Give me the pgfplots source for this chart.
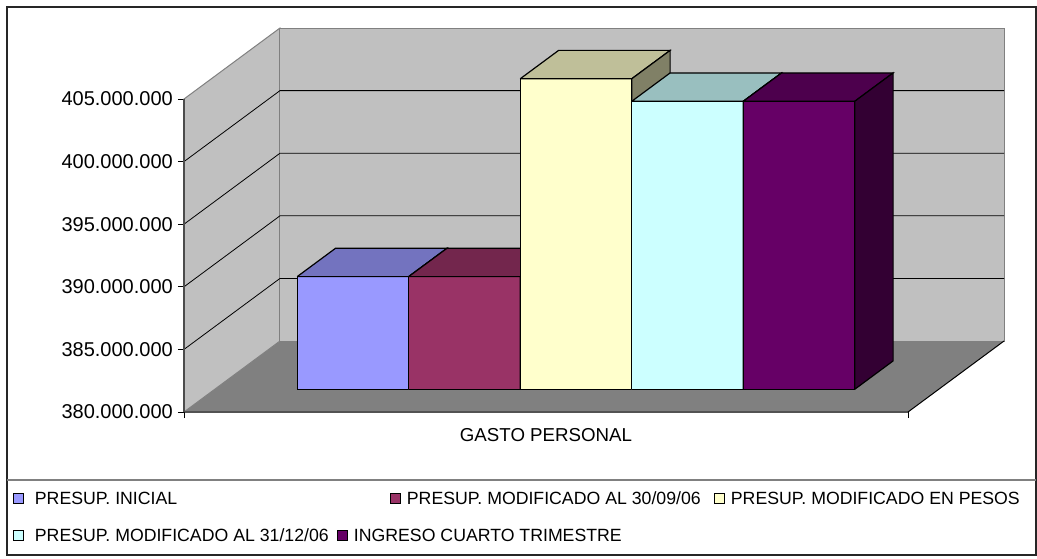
\documentclass[border=0pt]{standalone}
\usepackage{fontspec}
\setmainfont{Liberation Sans}
\usepackage{pgfplots}
\pgfplotsset{compat=1.18}
\definecolor{wall}{HTML}{C0C0C0}
\definecolor{floorc}{HTML}{808080}
\definecolor{edge}{HTML}{808080}
\definecolor{cA}{HTML}{9999FF}\definecolor{cAt}{HTML}{7373BF}\definecolor{cAs}{HTML}{4D4D80}
\definecolor{cB}{HTML}{993366}\definecolor{cBt}{HTML}{73264D}\definecolor{cBs}{HTML}{4D1A33}
\definecolor{cC}{HTML}{FFFFCC}\definecolor{cCt}{HTML}{BFBF99}\definecolor{cCs}{HTML}{808066}
\definecolor{cD}{HTML}{CCFFFF}\definecolor{cDt}{HTML}{99BFBF}\definecolor{cDs}{HTML}{668080}
\definecolor{cE}{HTML}{660066}\definecolor{cEt}{HTML}{4D004D}\definecolor{cEs}{HTML}{330033}
\pgfplotsset{
  table/obl/.style={row sep=\\, x expr=\thisrow{x}+96*\thisrow{d}, y expr=\thisrow{v}+5.67*\thisrow{d}},
  geom/.style={at={(184pt,146pt)}, anchor=south west, x=1pt, y=12.52pt,
    xmin=0, xmax=820, ymin=380, ymax=410.67, clip=false},
  leg/.style={legend style={draw=none, fill=none, inner sep=0pt, outer sep=0pt,
      column sep=0pt, row sep=0pt, cells={anchor=base west},
      nodes={inner sep=0pt, text height=13pt, text depth=3pt, font=\fontsize{17.7}{21}\selectfont},
      anchor=north west},
    legend image code/.code={\draw[##1,line width=0.9pt] (0pt,1.2pt) rectangle (10.5pt,11.2pt);}},
  barf/.style={draw=black, line width=1.2pt, line join=miter},
}
\begin{document}
\begin{tikzpicture}
\useasboundingbox (0,0) rectangle (1037pt,558pt);
\begin{axis}[geom, leg,
  axis line style={draw=none},
  ytick={380,385,...,405},
  yticklabels={380.000.000,385.000.000,390.000.000,395.000.000,400.000.000,405.000.000},
  ytick pos=left, xtick pos=left, tick align=outside,
  major tick length=6pt, tick style={black, line width=0.9pt},
  xtick={0,724}, xticklabels={,},
  extra x ticks={362}, extra x tick labels={GASTO PERSONAL},
  extra x tick style={major tick length=0pt, xticklabel style={font=\fontsize{18.7}{22}\selectfont, inner sep=0pt, anchor=north, yshift=-16pt}},
  yticklabel style={font=\fontsize{20}{24}\selectfont, inner sep=0pt, anchor=east, xshift=-5pt},
  legend columns=3,
  legend style={at={(axis description cs:-0.20909,-0.2070)}},
]
% floor
\addplot[fill=floorc, draw=none, forget plot] table[obl]{x v d\\0 380 0\\724 380 0\\724 380 1\\0 380 1\\0 380 0\\};
% side wall
\addplot[fill=wall, draw=edge, line width=1pt, forget plot] table[obl]{x v d\\0 380 0\\0 380 1\\0 405 1\\0 405 0\\0 380 0\\};
% back wall
\addplot[fill=wall, draw=edge, line width=1pt, forget plot] table[obl]{x v d\\0 380 1\\724 380 1\\724 405 1\\0 405 1\\0 380 1\\};
% gridlines
\pgfplotsinvokeforeach{385,390,395,400}{
\addplot[black, line width=0.8pt, forget plot] table[obl]{x v d\\0 #1 0\\0 #1 1\\724 #1 1\\};
}
% floor front edges
\addplot[black, line width=1pt, forget plot] table[obl]{x v d\\0 380 0\\724 380 0\\724 380 1\\};
% front value axis
\addplot[black!70, line width=1.3pt, forget plot] table[obl]{x v d\\0 380 0\\0 405 0\\};
% bar 1
\addplot[fill=cA, barf, forget plot] table[obl]{x v d\\82.5 380 0.32\\194 380 0.32\\194 389.0 0.32\\82.5 389.0 0.32\\82.5 380 0.32\\};
\addplot[fill=cAt, barf, forget plot] table[obl]{x v d\\82.5 389.0 0.32\\194 389.0 0.32\\194 389.0 0.72\\82.5 389.0 0.72\\82.5 389.0 0.32\\};
\addplot[fill=cAs, barf, forget plot] table[obl]{x v d\\194 380 0.32\\194 380 0.72\\194 389.0 0.72\\194 389.0 0.32\\194 380 0.32\\};
% bar 2
\addplot[fill=cB, barf, forget plot] table[obl]{x v d\\194 380 0.32\\305.5 380 0.32\\305.5 389.0 0.32\\194 389.0 0.32\\194 380 0.32\\};
\addplot[fill=cBt, barf, forget plot] table[obl]{x v d\\194 389.0 0.32\\305.5 389.0 0.32\\305.5 389.0 0.72\\194 389.0 0.72\\194 389.0 0.32\\};
\addplot[fill=cBs, barf, forget plot] table[obl]{x v d\\305.5 380 0.32\\305.5 380 0.72\\305.5 389.0 0.72\\305.5 389.0 0.32\\305.5 380 0.32\\};
% bar 3
\addplot[fill=cC, barf, forget plot] table[obl]{x v d\\305.5 380 0.32\\417 380 0.32\\417 404.8 0.32\\305.5 404.8 0.32\\305.5 380 0.32\\};
\addplot[fill=cCt, barf, forget plot] table[obl]{x v d\\305.5 404.8 0.32\\417 404.8 0.32\\417 404.8 0.72\\305.5 404.8 0.72\\305.5 404.8 0.32\\};
\addplot[fill=cCs, barf, forget plot] table[obl]{x v d\\417 380 0.32\\417 380 0.72\\417 404.8 0.72\\417 404.8 0.32\\417 380 0.32\\};
% bar 4
\addplot[fill=cD, barf, forget plot] table[obl]{x v d\\417 380 0.32\\528.5 380 0.32\\528.5 403.0 0.32\\417 403.0 0.32\\417 380 0.32\\};
\addplot[fill=cDt, barf, forget plot] table[obl]{x v d\\417 403.0 0.32\\528.5 403.0 0.32\\528.5 403.0 0.72\\417 403.0 0.72\\417 403.0 0.32\\};
\addplot[fill=cDs, barf, forget plot] table[obl]{x v d\\528.5 380 0.32\\528.5 380 0.72\\528.5 403.0 0.72\\528.5 403.0 0.32\\528.5 380 0.32\\};
% bar 5
\addplot[fill=cE, barf, forget plot] table[obl]{x v d\\528.5 380 0.32\\640 380 0.32\\640 403.0 0.32\\528.5 403.0 0.32\\528.5 380 0.32\\};
\addplot[fill=cEt, barf, forget plot] table[obl]{x v d\\528.5 403.0 0.32\\640 403.0 0.32\\640 403.0 0.72\\528.5 403.0 0.72\\528.5 403.0 0.32\\};
\addplot[fill=cEs, barf, forget plot] table[obl]{x v d\\640 380 0.32\\640 380 0.72\\640 403.0 0.72\\640 403.0 0.32\\640 380 0.32\\};
% legend row 1
\addlegendimage{fill=cA, draw=black}
\addlegendentry{\makebox[365.6pt][l]{\hspace*{11pt}PRESUP. INICIAL}}
\addlegendimage{fill=cB, draw=black}
\addlegendentry{\makebox[312.6pt][l]{\hspace*{6pt}PRESUP. MODIFICADO AL 30/09/06}}
\addlegendimage{fill=cC, draw=black}
\addlegendentry{\hspace*{6pt}PRESUP. MODIFICADO EN PESOS}
\end{axis}
\begin{axis}[geom, leg, hide axis, legend columns=2,
  legend style={at={(axis description cs:-0.20909,-0.3034)}}]
\addlegendimage{fill=cD, draw=black}
\addlegendentry{\makebox[312.6pt][l]{\hspace*{11pt}PRESUP. MODIFICADO AL 31/12/06}}
\addlegendimage{fill=cE, draw=black}
\addlegendentry{\hspace*{6pt}INGRESO CUARTO TRIMESTRE}
\end{axis}
\draw[black!85, line width=1.3pt] (7pt,3pt) rectangle (1036pt,551pt);
\draw[edge, line width=1.3pt] (7pt,78pt) -- (1036pt,78pt);
\end{tikzpicture}
\end{document}
